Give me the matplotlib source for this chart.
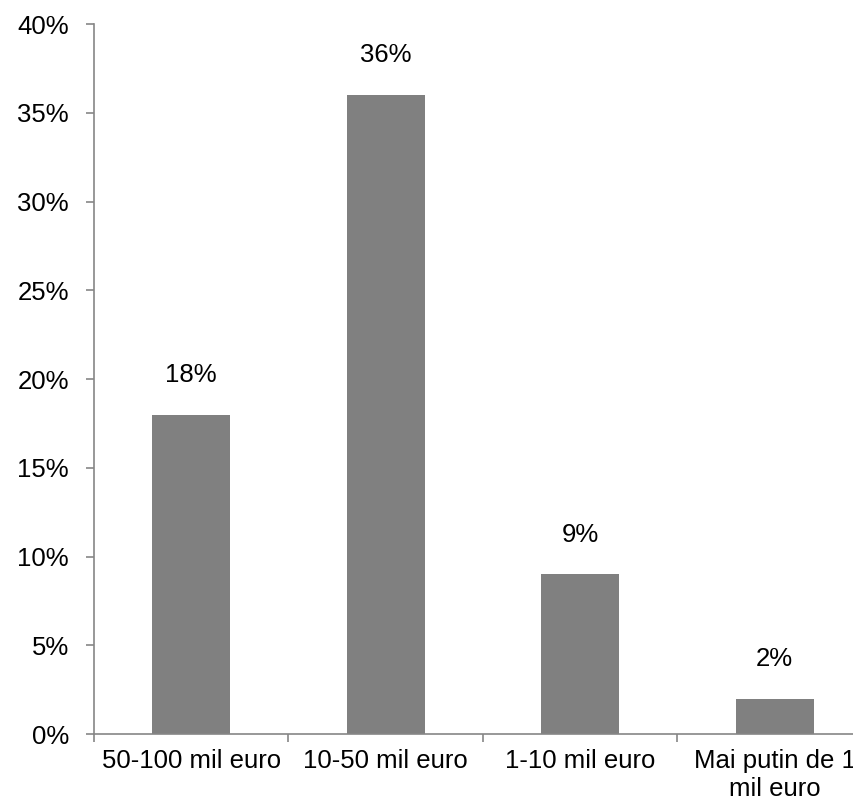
import numpy as np
import matplotlib.pyplot as plt

categories = ['50-100 mil euro', '10-50 mil euro', '1-10 mil euro', 'Mai putin de 1\nmil euro']
values = [18, 36, 9, 2]
labels = ['18%', '36%', '9%', '2%']

plt.rcParams['font.family'] = ['Liberation Sans', 'DejaVu Sans']

fig = plt.figure(figsize=(8.54, 8.05), dpi=100)
ax = fig.add_axes([0.110, 0.088, 0.911, 0.882])

x = np.arange(len(categories)) + 0.5
ax.bar(x, values, width=0.4, color='#808080', zorder=2)

for xi, v, lab in zip(x, values, labels):
    ax.annotate(lab, (xi, v), xytext=(0, 20), textcoords='offset points',
                ha='center', va='bottom', fontsize=18.5)

ax.set_xlim(0, 4)
ax.set_ylim(0, 40)
ax.set_yticks(np.arange(0, 41, 5))
ax.set_yticklabels([f'{t}%' for t in range(0, 41, 5)])

# category boundaries carry the tick marks, names sit in the middle
ax.set_xticks(np.arange(0, 5))
ax.set_xticklabels([])
ax.set_xticks(x, minor=True)
ax.set_xticklabels(categories, minor=True)
ax.tick_params(axis='x', which='minor', length=0, pad=11, labelsize=18.5)
ax.tick_params(axis='x', which='major', length=6, color='#868686', width=1.2)
ax.tick_params(axis='y', length=6, color='#868686', width=1.2, pad=12, labelsize=18.5)

for s in ['top', 'right']:
    ax.spines[s].set_visible(False)
for s in ['left', 'bottom']:
    ax.spines[s].set_color('#868686')
    ax.spines[s].set_linewidth(1.2)

fig.savefig('out.png', dpi=100)
